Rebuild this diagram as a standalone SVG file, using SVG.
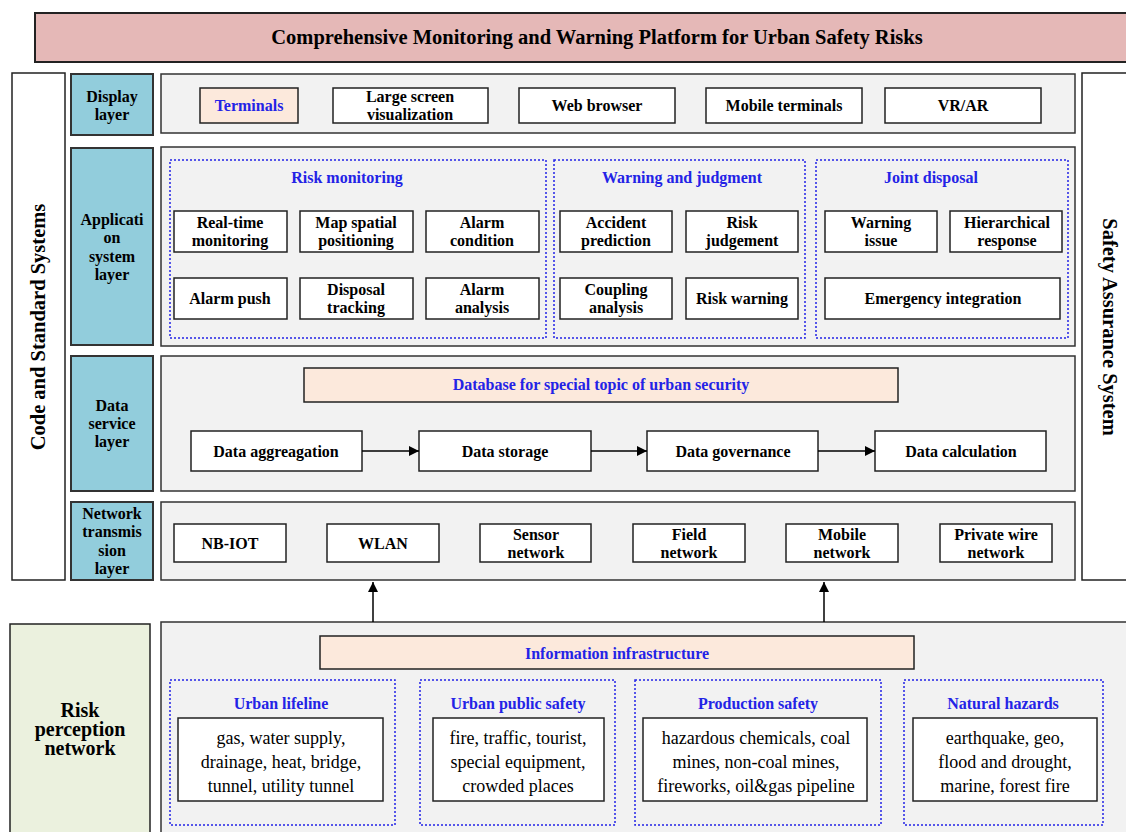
<svg xmlns="http://www.w3.org/2000/svg" width="1126" height="832" viewBox="0 0 1126 832">
<defs>
<marker id="ah" viewBox="0 0 10 10" refX="10" refY="5" markerWidth="10" markerHeight="10" markerUnits="userSpaceOnUse" orient="auto"><path d="M0,0 L10,5 L0,10 z" fill="#000"/></marker>
<style>
text{font-family:"Liberation Serif","Times New Roman",serif;text-anchor:middle;dominant-baseline:central;fill:#000}
.b{font-weight:bold;font-size:16px}
.blue{fill:#2323e6}
.n{font-size:18px}
.box{fill:#fff;stroke:#222;stroke-width:1.5}
.pink{fill:#fce9dc;stroke:#222;stroke-width:1.5}
.panel{fill:#f2f2f2;stroke:#333;stroke-width:1.5}
.lab{fill:#92cddc;stroke:#333;stroke-width:2}
.side{fill:#fff;stroke:#222;stroke-width:1.5}
.dot{fill:none;stroke:#2323e6;stroke-width:1.5;stroke-dasharray:2 2}
.conn{stroke:#000;stroke-width:1.5;fill:none}
.big{font-weight:bold;font-size:20.5px}
.rp{font-weight:bold;font-size:20px}
</style>
</defs>
<rect width="1126" height="832" fill="#fff"/>

<g id="title"><rect x="35" y="13" width="1100" height="49" fill="#e5b8b7" stroke="#222" stroke-width="2"/><text class="big" x="597" y="37">Comprehensive Monitoring and Warning Platform for Urban Safety Risks</text></g>

<g id="code-standard"><rect class="side" x="12" y="73" width="53" height="507"/><text class="big" transform="translate(38,327) rotate(-90)">Code and Standard Systems</text></g>
<g id="safety-assurance"><rect class="side" x="1082" y="73" width="50" height="507"/><text class="big" transform="translate(1110,327) rotate(90)">Safety Assurance System</text></g>

<g id="display-layer">
<rect class="lab" x="71" y="74" width="82" height="61"/><text class="b" x="112" y="96">Display</text><text class="b" x="112" y="114">layer</text>
<rect class="panel" x="161" y="74" width="914" height="59"/>
</g>
<g id="terminals"><rect class="pink" x="200" y="88" width="98" height="35"/><text class="b blue" x="249" y="105">Terminals</text></g>
<g id="large-screen"><rect class="box" x="333" y="88" width="155" height="35"/><text class="b" x="410" y="96">Large screen</text><text class="b" x="410" y="114">visualization</text></g>
<g id="web-browser"><rect class="box" x="519" y="88" width="156" height="35"/><text class="b" x="597" y="105">Web browser</text></g>
<g id="mobile-terminals"><rect class="box" x="706" y="88" width="156" height="35"/><text class="b" x="784" y="105">Mobile terminals</text></g>
<g id="vrar"><rect class="box" x="885" y="88" width="156" height="35"/><text class="b" x="963" y="105">VR/AR</text></g>

<g id="application-layer">
<rect class="lab" x="71" y="148" width="82" height="197"/><text class="b" x="112" y="219">Applicati</text><text class="b" x="112" y="237">on</text><text class="b" x="112" y="256">system</text><text class="b" x="112" y="274">layer</text>
<rect class="panel" x="161" y="147" width="914" height="199"/>
</g>
<g id="risk-monitoring"><rect class="dot" x="170" y="160" width="376" height="178"/><text class="b blue" x="347" y="177">Risk monitoring</text></g>
<g id="warning-judgment"><rect class="dot" x="554" y="160" width="251" height="178"/><text class="b blue" x="682" y="177">Warning and judgment</text></g>
<g id="joint-disposal"><rect class="dot" x="816" y="160" width="252" height="178"/><text class="b blue" x="931" y="177">Joint disposal</text></g>
<g id="real-time"><rect class="box" x="174" y="211" width="113" height="41"/><text class="b" x="230" y="222">Real-time</text><text class="b" x="230" y="240">monitoring</text></g>
<g id="map-spatial"><rect class="box" x="300" y="211" width="113" height="41"/><text class="b" x="356" y="222">Map spatial</text><text class="b" x="356" y="240">positioning</text></g>
<g id="alarm-condition"><rect class="box" x="426" y="211" width="113" height="41"/><text class="b" x="482" y="222">Alarm</text><text class="b" x="482" y="240">condition</text></g>
<g id="alarm-push"><rect class="box" x="174" y="278" width="113" height="41"/><text class="b" x="230" y="298">Alarm push</text></g>
<g id="disposal-tracking"><rect class="box" x="300" y="278" width="113" height="41"/><text class="b" x="356" y="289">Disposal</text><text class="b" x="356" y="307">tracking</text></g>
<g id="alarm-analysis"><rect class="box" x="426" y="278" width="113" height="41"/><text class="b" x="482" y="289">Alarm</text><text class="b" x="482" y="307">analysis</text></g>
<g id="accident-prediction"><rect class="box" x="560" y="211" width="112" height="41"/><text class="b" x="616" y="222">Accident</text><text class="b" x="616" y="240">prediction</text></g>
<g id="risk-judgement"><rect class="box" x="686" y="211" width="112" height="41"/><text class="b" x="742" y="222">Risk</text><text class="b" x="742" y="240">judgement</text></g>
<g id="coupling-analysis"><rect class="box" x="560" y="278" width="112" height="41"/><text class="b" x="616" y="289">Coupling</text><text class="b" x="616" y="307">analysis</text></g>
<g id="risk-warning"><rect class="box" x="686" y="278" width="112" height="41"/><text class="b" x="742" y="298">Risk warning</text></g>
<g id="warning-issue"><rect class="box" x="825" y="211" width="112" height="41"/><text class="b" x="881" y="222">Warning</text><text class="b" x="881" y="240">issue</text></g>
<g id="hierarchical-response"><rect class="box" x="950" y="211" width="112" height="41"/><text class="b" x="1007" y="222">Hierarchical</text><text class="b" x="1007" y="240">response</text></g>
<g id="emergency-integration"><rect class="box" x="825" y="278" width="235" height="41"/><text class="b" x="943" y="298">Emergency integration</text></g>

<g id="data-layer">
<rect class="lab" x="71" y="356" width="82" height="135"/><text class="b" x="112" y="405">Data</text><text class="b" x="112" y="423">service</text><text class="b" x="112" y="441">layer</text>
<rect class="panel" x="161" y="356" width="914" height="135"/>
</g>
<g id="database"><rect class="pink" x="304" y="368" width="594" height="34"/><text class="b blue" x="601" y="384">Database for special topic of urban security</text></g>
<g id="data-aggregation"><rect class="box" x="191" y="431" width="171" height="40"/><text class="b" x="276" y="451">Data aggreagation</text></g>
<g id="data-storage"><rect class="box" x="419" y="431" width="172" height="40"/><text class="b" x="505" y="451">Data storage</text></g>
<g id="data-governance"><rect class="box" x="647" y="431" width="171" height="40"/><text class="b" x="733" y="451">Data governance</text></g>
<g id="data-calculation"><rect class="box" x="875" y="431" width="171" height="40"/><text class="b" x="961" y="451">Data calculation</text></g>

<g id="network-layer">
<rect class="lab" x="71" y="502" width="82" height="78"/><text class="b" x="112" y="513">Network</text><text class="b" x="112" y="531">transmis</text><text class="b" x="112" y="550">sion</text><text class="b" x="112" y="568">layer</text>
<rect class="panel" x="161" y="502" width="914" height="78"/>
</g>
<g id="nb-iot"><rect class="box" x="174" y="524" width="112" height="38"/><text class="b" x="230" y="543">NB-IOT</text></g>
<g id="wlan"><rect class="box" x="327" y="524" width="112" height="38"/><text class="b" x="383" y="543">WLAN</text></g>
<g id="sensor-network"><rect class="box" x="480" y="524" width="111" height="38"/><text class="b" x="536" y="534">Sensor</text><text class="b" x="536" y="552">network</text></g>
<g id="field-network"><rect class="box" x="633" y="524" width="112" height="38"/><text class="b" x="689" y="534">Field</text><text class="b" x="689" y="552">network</text></g>
<g id="mobile-network"><rect class="box" x="786" y="524" width="112" height="38"/><text class="b" x="842" y="534">Mobile</text><text class="b" x="842" y="552">network</text></g>
<g id="private-wire"><rect class="box" x="940" y="524" width="112" height="38"/><text class="b" x="996" y="534">Private wire</text><text class="b" x="996" y="552">network</text></g>

<g id="risk-perception">
<rect x="10" y="624" width="140" height="215" fill="#ebf1de" stroke="#222" stroke-width="1.5"/>
<text class="rp" x="80" y="710">Risk</text><text class="rp" x="80" y="729">perception</text><text class="rp" x="80" y="748">network</text>
<rect class="panel" x="161" y="622" width="975" height="220"/>
</g>
<g id="info-infra"><rect class="pink" x="320" y="636" width="594" height="33"/><text class="b blue" x="617" y="653">Information infrastructure</text></g>
<g id="urban-lifeline"><rect class="dot" x="170" y="680" width="225" height="145"/><text class="b blue" x="281" y="703">Urban lifeline</text>
<rect class="box" x="178" y="718" width="205" height="83"/><text class="n" x="281" y="738">gas, water supply,</text><text class="n" x="281" y="762">drainage, heat, bridge,</text><text class="n" x="281" y="786">tunnel, utility tunnel</text></g>
<g id="urban-public-safety"><rect class="dot" x="420" y="680" width="195" height="145"/><text class="b blue" x="518" y="703">Urban public safety</text>
<rect class="box" x="433" y="718" width="171" height="83"/><text class="n" x="518" y="738">fire, traffic, tourist,</text><text class="n" x="518" y="762">special equipment,</text><text class="n" x="518" y="786">crowded places</text></g>
<g id="production-safety"><rect class="dot" x="635" y="680" width="246" height="145"/><text class="b blue" x="758" y="703">Production safety</text>
<rect class="box" x="643" y="718" width="224" height="83"/><text class="n" x="756" y="738">hazardous chemicals, coal</text><text class="n" x="756" y="762">mines, non-coal mines,</text><text class="n" x="756" y="786">fireworks, oil&amp;gas pipeline</text></g>
<g id="natural-hazards"><rect class="dot" x="904" y="680" width="199" height="145"/><text class="b blue" x="1003" y="703">Natural hazards</text>
<rect class="box" x="913" y="718" width="184" height="83"/><text class="n" x="1005" y="738">earthquake, geo,</text><text class="n" x="1005" y="762">flood and drought,</text><text class="n" x="1005" y="786">marine, forest fire</text></g>

<g id="connectors">
<line class="conn" x1="362" y1="451" x2="419" y2="451" marker-end="url(#ah)"/>
<line class="conn" x1="591" y1="451" x2="647" y2="451" marker-end="url(#ah)"/>
<line class="conn" x1="818" y1="451" x2="875" y2="451" marker-end="url(#ah)"/>
<line class="conn" x1="373" y1="622" x2="373" y2="582" marker-end="url(#ah)"/>
<line class="conn" x1="824" y1="622" x2="824" y2="582" marker-end="url(#ah)"/>
</g>
</svg>
